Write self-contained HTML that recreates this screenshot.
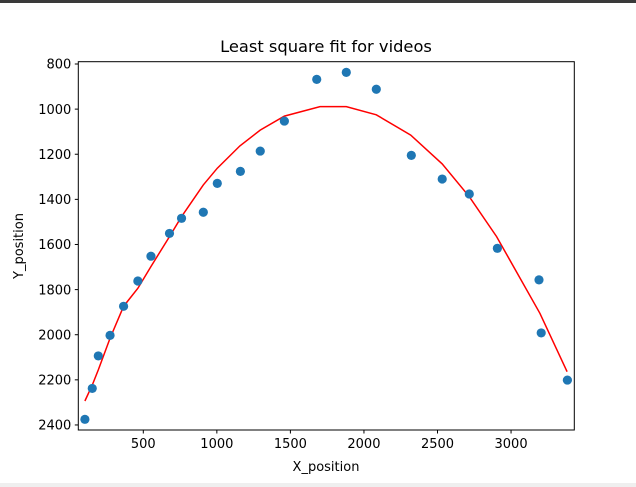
<!DOCTYPE html>
<html><head><meta charset="utf-8"><style>
html,body{margin:0;padding:0;background:#fff;}
body{width:636px;height:487px;overflow:hidden;position:relative;font-family:"DejaVu Sans","Liberation Sans",sans-serif;}
</style></head><body>
<div style="position:absolute;left:0;top:0;width:636px;height:3px;background:#3a3a3a"></div>
<div style="position:absolute;left:0;top:483px;width:636px;height:4px;background:#efefef"></div>
<svg id="chart" width="636" height="487" style="position:absolute;left:0;top:0" xmlns="http://www.w3.org/2000/svg"></svg>
<script>
const scatterX=[103,153,194,274,366,463,552,678,760,908,1003,1160,1295,1459,1679,1880,2084,2322,2532,2716,2907,3190,3205,3383];
const scatterY=[2375,2238,2094,2003,1874,1762,1652,1551,1484,1457,1329,1276,1186,1053,868,837,912,1205,1310,1376,1617,1757,1992,2201];
const fitX=[103,153,194,274,366,463,552,678,760,908,1003,1157,1295,1459,1701,1880,2084,2318,2532,2716,2902,3196,3381];
const fitY=[2294,2223,2156,2015,1874,1794,1698,1565,1477,1336,1262,1163,1093,1031,989,989,1025,1115,1243,1388,1565,1905,2164];
const xTicks=[500,1000,1500,2000,2500,3000];
const yTicks=[800,1000,1200,1400,1600,1800,2000,2200,2400];
const L=78.3,R=574.3,T=61.7,B=430;
function sx(v){return 143.3+(v-500)*0.1471;}
function sy(v){return 64+(v-800)*0.2256;}
const svg=document.getElementById('chart');
const NS='http://www.w3.org/2000/svg';
function mk(tag,attrs){const e=document.createElementNS(NS,tag);for(const k in attrs)e.setAttribute(k,attrs[k]);svg.appendChild(e);return e;}
let e;
e=mk('path',{d:'M'+fitX.map((x,i)=>sx(x).toFixed(1)+','+sy(fitY[i]).toFixed(1)).join('L'),fill:'none',stroke:'#ff0000','stroke-width':1.5});


scatterX.forEach((x,i)=>{
  const c=mk('circle',{cx:sx(x),cy:sy(scatterY[i]),r:4.6,fill:'#1f77b4'});
  
  
});
e=mk('rect',{x:L,y:T,width:R-L,height:B-T,fill:'none',stroke:'#000','stroke-width':1});


xTicks.forEach(v=>{
  const t=mk('line',{x1:sx(v),x2:sx(v),y1:B,y2:B+3.5,stroke:'#000'});
  
  
  const l=mk('text',{x:sx(v),y:B+18,'text-anchor':'middle','font-size':13,fill:'#000'});
  l.textContent=v;
  
  
});
yTicks.forEach(v=>{
  const t=mk('line',{x1:L-3.5,x2:L,y1:sy(v),y2:sy(v),stroke:'#000'});
  
  
  const l=mk('text',{x:L-7,y:sy(v)+4.7,'text-anchor':'end','font-size':13,fill:'#000'});
  l.textContent=v;
  
  
});
e=mk('text',{x:326,y:52,'text-anchor':'middle','font-size':16.3,fill:'#000'});
e.textContent='Least square fit for videos';


e=mk('text',{x:326,y:471,'text-anchor':'middle','font-size':13,fill:'#000'});
e.textContent='X_position';


e=mk('text',{x:0,y:0,'text-anchor':'middle','font-size':13,fill:'#000',transform:'translate(23,246) rotate(-90)'});
e.textContent='Y_position';


</script>
</body></html>
